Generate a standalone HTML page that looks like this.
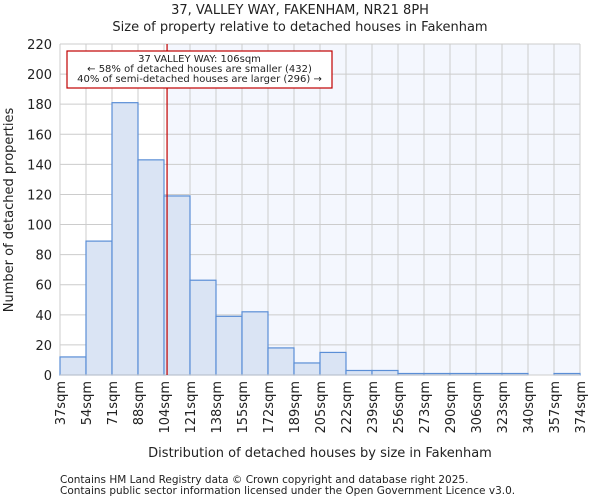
<!DOCTYPE html>
<html><head><meta charset="utf-8"><style>
body{margin:0;background:#fff;font-family:"DejaVu Sans","Liberation Sans",sans-serif;}
svg text{font-family:"DejaVu Sans","Liberation Sans",sans-serif;fill:#222;}
</style></head><body>
<svg id="chart" width="600" height="500" xmlns="http://www.w3.org/2000/svg">
<text x="300" y="14" font-size="13" text-anchor="middle">37, VALLEY WAY, FAKENHAM, NR21 8PH</text>
<text x="300" y="31" font-size="13" text-anchor="middle">Size of property relative to detached houses in Fakenham</text>
<g id="plot"></g>
<text x="320" y="457" font-size="13" text-anchor="middle">Distribution of detached houses by size in Fakenham</text>
<text transform="translate(13,210) rotate(-90)" font-size="13" text-anchor="middle">Number of detached properties</text>
<text x="60" y="483" font-size="10.5" fill="#444">Contains HM Land Registry data © Crown copyright and database right 2025.</text>
<text x="60" y="494" font-size="10.5" fill="#444">Contains public sector information licensed under the Open Government Licence v3.0.</text>
</svg>
<script>
const binEdges=[37,54,71,88,104,121,138,155,172,189,205,222,239,256,273,290,306,323,340,357,374];
const counts=[12,89,181,143,119,63,39,42,18,8,15,3,3,1,1,1,1,1,0,1];
const yTicks=[0,20,40,60,80,100,120,140,160,180,200,220];
const markerValue=106;
const annotationLines=["37 VALLEY WAY: 106sqm","← 58% of detached houses are smaller (432)","40% of semi-detached houses are larger (296) →"];

const NS="http://www.w3.org/2000/svg";
const g=document.getElementById('plot');
const L=60,R=580,T=44,B=375,yMax=220;
const nb=counts.length;
function xIdx(i){return L+(R-L)*i/nb;}
function xVal(v){let i=0;while(i<nb-1&&v>binEdges[i+1])i++;return xIdx(i)+(v-binEdges[i])/(binEdges[i+1]-binEdges[i])*(R-L)/nb;}
function y(v){return B-(B-T)*v/yMax;}
function el(t,a){const e=document.createElementNS(NS,t);for(const k in a)e.setAttribute(k,a[k]);g.appendChild(e);return e;}
const mx=xVal(markerValue);
let bg=el('rect',{x:L,y:T,width:mx-L,height:B-T,fill:'#ffffff'});


let bg2=el('rect',{x:mx,y:T,width:R-mx,height:B-T,fill:'#f4f7fe'});


yTicks.forEach(t=>{
 let l=el('line',{x1:L,x2:R,y1:y(t),y2:y(t),stroke:'#cccccc','stroke-width':1});
 
 
 let tx=el('text',{x:L-8,y:y(t)+5,'font-size':13,'text-anchor':'end'});tx.textContent=t;
 
 
});
binEdges.forEach((e,i)=>{
 const x=xIdx(i);
 let l=el('line',{x1:x,x2:x,y1:T,y2:B,stroke:'#cccccc','stroke-width':1});
 
 
 let tx=el('text',{transform:`translate(${x+5},${B+6}) rotate(-90)`,'font-size':13,'text-anchor':'end'});tx.textContent=e+'sqm';
 
 
});
counts.forEach((c,i)=>{
 if(c<=0)return;
 let r=el('rect',{x:xIdx(i),y:y(c),width:(R-L)/nb,height:B-y(c),fill:'#dae4f4',stroke:'#5a8ed6','stroke-width':1.2});
 
 
});
let ax=el('line',{x1:L,x2:R,y1:B,y2:B,stroke:'#cccccc','stroke-width':1});


let ml=el('line',{x1:mx,x2:mx,y1:T,y2:B,stroke:'#c00000','stroke-width':1.2});


let box=el('rect',{x:67,y:51,width:265,height:37,fill:'#fff',stroke:'#c00000','stroke-width':1.2});


annotationLines.forEach((s,i)=>{
 let t=el('text',{x:199.5,y:62+i*10,'font-size':10,'text-anchor':'middle'});t.textContent=s;
 
 
});
</script>
</body></html>
